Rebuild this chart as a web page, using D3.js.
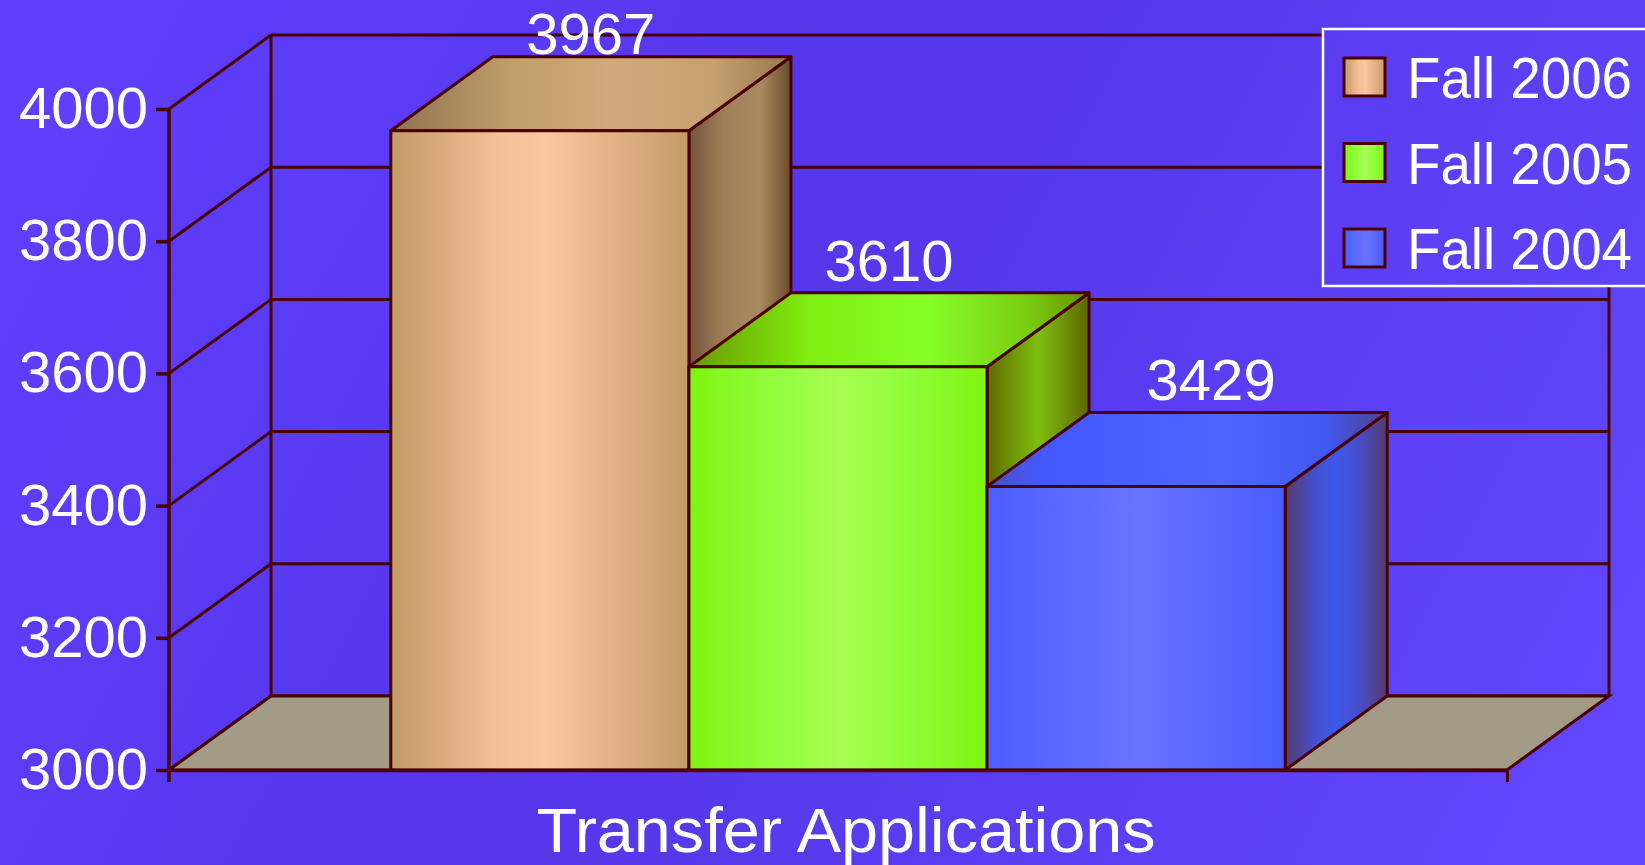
<!DOCTYPE html>
<html>
<head>
<meta charset="utf-8">
<script src="https://cdn.jsdelivr.net/npm/d3@7"></script>
<style>
  html, body { margin: 0; padding: 0; overflow: hidden; }
  text { font-family: "Liberation Sans", Arial, sans-serif; fill: #fff; }
</style>
</head>
<body>
<svg id="chart" width="1645" height="865"></svg>
<script>
var categories = ['Transfer Applications'];
var seriesNames = ['Fall 2006', 'Fall 2005', 'Fall 2004'];
var seriesValues = [3967, 3610, 3429];
var yTicks = [3000, 3200, 3400, 3600, 3800, 4000];

var W = 1645, H = 865;
var plotLeft = 169, plotRight = 1507, plotTop = 109, plotBottom = 770;
var depthX = 102, depthY = 74;
var edge = '#4a0000';
var lineW = 3;

// face shading per series: front, top, side (horizontal gradients)
var shades = [
    {
        front: [[0, '#c39a66'], [0.35, '#f3bf96'], [0.52, '#f9c8a0'], [0.7, '#e8b58b'], [1, '#c49c68']],
        top: [[0, '#8e7350'], [0.3, '#c09e6a'], [0.55, '#cfaa7a'], [0.8, '#c7a270'], [1, '#96764f']],
        side: [[0, '#75553a'], [0.35, '#a08058'], [0.7, '#a88a60'], [1, '#6c4c2c']]
    },
    {
        front: [[0, '#7ef412'], [0.25, '#8ffc38'], [0.5, '#a6ff52'], [0.75, '#8ffc38'], [1, '#7ef410']],
        top: [[0, '#6a9800'], [0.3, '#80ee10'], [0.6, '#86ff28'], [0.85, '#7acc10'], [1, '#6a8e00']],
        side: [[0, '#5e6a00'], [0.5, '#7fc010'], [1, '#5e6600']]
    },
    {
        front: [[0, '#4a5eff'], [0.5, '#6a73ff'], [1, '#4a5cff']],
        top: [[0, '#4a50c8'], [0.15, '#4458ff'], [0.6, '#4f64ff'], [0.85, '#4058f0'], [1, '#52408a']],
        side: [[0, '#553a6c'], [0.3, '#4550d0'], [0.5, '#3c58ea'], [0.7, '#4550d0'], [1, '#553a6c']]
    }
];

var svg = d3.select('#chart');
var defs = svg.append('defs');

var bg = defs.append('linearGradient')
    .attr('id', 'bg')
    .attr('gradientUnits', 'userSpaceOnUse')
    .attr('x1', 0).attr('y1', 0).attr('x2', W).attr('y2', H);
[[0, '#603fff'], [0.45, '#5536e8'], [1, '#6348ff']].forEach(function (s) {
    bg.append('stop').attr('offset', s[0]).attr('stop-color', s[1]);
});

shades.forEach(function (sh, i) {
    ['front', 'top', 'side'].forEach(function (face) {
        var g = defs.append('linearGradient')
            .attr('id', 'g' + i + face)
            .attr('x1', 0).attr('y1', 0).attr('x2', 1).attr('y2', 0);
        sh[face].forEach(function (s) {
            g.append('stop').attr('offset', s[0]).attr('stop-color', s[1]);
        });
    });
});

svg.append('rect')
    .attr('width', W).attr('height', H)
    .attr('fill', 'url(#bg)');

var yScale = d3.scaleLinear()
    .domain([3000, 4000])
    .range([plotBottom, plotTop]);

var x0 = d3.scaleBand()
    .domain(categories)
    .range([plotLeft, plotRight])
    .paddingOuter(0.248);

var x1 = d3.scaleBand()
    .domain(seriesNames)
    .range([0, x0.bandwidth()]);

// walls: left wall diagonals and back wall gridlines
var walls = svg.append('g').attr('stroke', edge).attr('stroke-width', lineW).attr('fill', 'none');
yTicks.forEach(function (v) {
    var y = yScale(v);
    walls.append('line')
        .attr('x1', plotLeft).attr('y1', y)
        .attr('x2', plotLeft + depthX).attr('y2', y - depthY);
    walls.append('line')
        .attr('x1', plotLeft + depthX).attr('y1', y - depthY)
        .attr('x2', plotRight + depthX).attr('y2', y - depthY);
});
[plotLeft + depthX, plotRight + depthX].forEach(function (x) {
    walls.append('line')
        .attr('x1', x).attr('y1', yScale(4000) - depthY)
        .attr('x2', x).attr('y2', plotBottom - depthY);
});

// floor
svg.append('polygon')
    .attr('points', [
        [plotLeft, plotBottom],
        [plotLeft + depthX, plotBottom - depthY],
        [plotRight + depthX, plotBottom - depthY],
        [plotRight, plotBottom]
    ].map(function (p) { return p.join(','); }).join(' '))
    .attr('fill', '#a39b86')
    .attr('stroke', edge)
    .attr('stroke-width', lineW);

// bars
var data = seriesNames.map(function (name, i) {
    return { name: name, value: seriesValues[i], idx: i, cat: categories[0] };
});

var bars = svg.append('g').selectAll('.bar')
    .data(data)
    .enter().append('g')
    .classed('bar', true);

function pts(arr) {
    return arr.map(function (p) { return p.join(','); }).join(' ');
}

bars.each(function (d) {
    var g = d3.select(this);
    var x = x0(d.cat) + x1(d.name);
    var w = x1.bandwidth();
    var y = yScale(d.value);
    g.append('polygon')
        .attr('points', pts([[x + w, y], [x + w + depthX, y - depthY], [x + w + depthX, plotBottom - depthY], [x + w, plotBottom]]))
        .attr('fill', 'url(#g' + d.idx + 'side)');
    g.append('polygon')
        .attr('points', pts([[x, y], [x + depthX, y - depthY], [x + w + depthX, y - depthY], [x + w, y]]))
        .attr('fill', 'url(#g' + d.idx + 'top)');
    g.append('rect')
        .attr('x', x).attr('y', y)
        .attr('width', w).attr('height', plotBottom - y)
        .attr('fill', 'url(#g' + d.idx + 'front)');
    g.selectAll('polygon, rect')
        .attr('stroke', edge)
        .attr('stroke-width', lineW)
        .attr('stroke-linejoin', 'round');
});

// y axis
var yAxis = svg.append('g')
    .attr('transform', 'translate(' + plotLeft + ',0)')
    .call(d3.axisLeft(yScale).tickValues(yTicks).tickSize(13).tickSizeOuter(0).tickPadding(8).tickFormat(d3.format('d')));
yAxis.select('.domain').remove();
yAxis.selectAll('.tick line').attr('stroke', edge).attr('stroke-width', lineW + 0.5);
yAxis.selectAll('.tick text')
    .attr('fill', '#fff')
    .style('font-size', '58px')
    .attr('font-family', null);
yAxis.append('line')
    .attr('x1', 0).attr('x2', 0)
    .attr('y1', plotTop).attr('y2', plotBottom + 12)
    .attr('stroke', edge).attr('stroke-width', lineW + 0.5);

// x axis (category boundaries)
var xEdge = d3.scaleLinear().domain([0, 1]).range([plotLeft, plotRight]);
var xAxis = svg.append('g')
    .attr('transform', 'translate(0,' + plotBottom + ')')
    .call(d3.axisBottom(xEdge).tickValues([1]).tickSize(12).tickSizeOuter(0).tickFormat(''));
xAxis.select('.domain').attr('stroke', edge).attr('stroke-width', lineW + 0.5);
xAxis.selectAll('.tick line').attr('stroke', edge).attr('stroke-width', lineW);

svg.append('text')
    .attr('x', x0(categories[0]) + x0.bandwidth() / 2 + 8)
    .attr('y', 852)
    .attr('text-anchor', 'middle')
    .attr('textLength', 619)
    .attr('lengthAdjust', 'spacingAndGlyphs')
    .style('font-size', '63px')
    .text(categories[0]);

// value labels
bars.append('text')
    .attr('x', function (d) { return x0(d.cat) + x1(d.name) + x1.bandwidth() / 2 + depthX / 2 + (d.idx === 2 ? 24 : 0); })
    .attr('y', function (d) { return Math.max(54, yScale(d.value) - depthY - 12); })
    .attr('text-anchor', 'middle')
    .style('font-size', '58px')
    .text(function (d) { return d.value; });

// legend
var legend = svg.append('g');
legend.append('rect')
    .attr('x', 1323).attr('y', 29)
    .attr('width', 340).attr('height', 257)
    .attr('fill', 'url(#bg)')
    .attr('stroke', '#fff')
    .attr('stroke-width', 2.5);
var items = legend.selectAll('.item')
    .data(data)
    .enter().append('g')
    .attr('transform', function (d, i) { return 'translate(1344,' + (58 + i * 85.5) + ')'; });
items.append('rect')
    .attr('width', 41).attr('height', 38)
    .attr('fill', function (d) { return 'url(#g' + d.idx + 'front)'; })
    .attr('stroke', edge)
    .attr('stroke-width', 3);
items.append('text')
    .attr('x', 63).attr('y', 40)
    .attr('textLength', 225)
    .attr('lengthAdjust', 'spacingAndGlyphs')
    .style('font-size', '58px')
    .text(function (d) { return d.name; });
</script>
</body>
</html>
